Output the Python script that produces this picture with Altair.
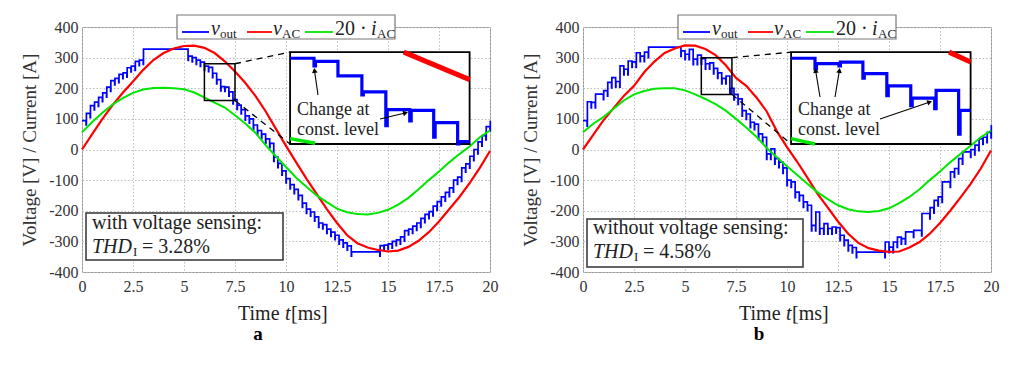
import math
import altair as alt
import pandas as pd

FONT = "'Liberation Serif', 'Times New Roman', 'DejaVu Serif', serif"
BLUE = "#0000ff"
RED = "#ff0000"
GREEN = "#00e600"
TXT = "#222222"

# ---------------- data ----------------
T_BLUE = [0.0, 0.2, 0.4, 0.6, 0.8, 1.0, 1.2, 1.4, 1.6, 1.8, 2.0, 2.2, 2.4, 2.6, 2.8,
          3.0, 3.2, 3.4, 3.6, 3.8, 4.0, 4.2, 4.4, 4.6, 4.8, 5.0, 5.2, 5.4, 5.6, 5.8,
          6.0, 6.2, 6.4, 6.6, 6.8, 7.0, 7.2, 7.4, 7.6, 7.8, 8.0, 8.2, 8.4, 8.6, 8.8,
          9.0, 9.2, 9.4, 9.6, 9.8, 10.0, 10.2, 10.4, 10.6, 10.8, 11.0, 11.2, 11.4, 11.6, 11.8,
          12.0, 12.2, 12.4, 12.6, 12.8, 13.0, 13.2, 13.4, 13.6, 13.8, 14.0, 14.2, 14.4, 14.6, 14.8,
          15.0, 15.2, 15.4, 15.6, 15.8, 16.0, 16.2, 16.4, 16.6, 16.8, 17.0, 17.2, 17.4, 17.6, 17.8,
          18.0, 18.2, 18.4, 18.6, 18.8, 19.0, 19.2, 19.4, 19.6, 19.8, 20.0]

LEFT_VOUT = [94, 118, 143, 155, 170, 185, 204, 225, 232, 245, 250, 267, 272, 288, 292,
             328, 328, 328, 328, 328, 328, 328, 328, 328, 328, 328, 305, 300, 292, 285,
             272, 268, 249, 228, 205, 204, 188, 163, 145, 130, 110, 100, 80, 62, 50,
             35, 20, -25, -45, -70, -95, -115, -130, -150, -175, -195, -204, -220, -240, -245,
             -260, -270, -280, -295, -305, -315, -334, -334, -334, -334, -334, -334, -334, -314, -312,
             -308, -300, -295, -285, -265, -260, -250, -240, -225, -212, -203, -185, -170, -155, -140,
             -125, -100, -90, -60, -47, -22, 0, 25, 45, 75, 94]

RIGHT_VOUT = [94, 156, 154, 181, 181, 192, 219, 235, 222, 273, 262, 289, 286, 316, 305,
              318, 334, 334, 334, 334, 334, 334, 334, 334, 322, 311, 327, 295, 308, 297,
              280, 283, 265, 250, 232, 240, 200, 180, 165, 127, 116, 89, 83, 51, 40,
              -14, 2, -30, -41, -60, -100, -106, -139, -150, -171, -182, -248, -204, -258, -242,
              -258, -253, -255, -280, -296, -313, -320, -335, -335, -335, -335, -335, -335, -335, -302,
              -319, -302, -286, -291, -269, -269, -264, -264, -209, -209, -190, -166, -155, -106, -106,
              -73, -62, -30, -8, -8, 0, 14, 35, 40, 56, 80]

T_SINE = [0.0, 0.5, 1.0, 1.5, 2.0, 2.5, 3.0, 3.5, 4.0, 4.5, 5.0, 5.5, 6.0, 6.5, 7.0, 7.5,
          8.0, 8.5, 9.0, 9.5, 10.0, 10.5, 11.0, 11.5, 12.0, 12.5, 13.0, 13.5, 14.0, 14.5,
          15.0, 15.5, 16.0, 16.5, 17.0, 17.5, 18.0, 18.5, 19.0, 19.5, 20.0]

LEFT_VAC = [0, 50, 100, 145, 185, 222, 260, 292, 315, 330, 338, 339, 332, 315, 288, 255,
            218, 175, 125, 68, 12, -42, -95, -145, -195, -240, -280, -306, -320, -328,
            -333, -330, -318, -298, -270, -235, -195, -155, -110, -60, -5]
LEFT_IAC20 = [56, 90, 120, 147, 168, 185, 196, 201, 202, 200, 197, 186, 170, 153, 137, 112,
              85, 55, 14, -22, -57, -92, -122, -150, -172, -193, -205, -211, -212, -207,
              -197, -180, -158, -130, -100, -72, -42, -15, 10, 40, 62]

RIGHT_VAC = [0, 48, 95, 135, 175, 208, 252, 287, 315, 330, 340, 339, 328, 308, 275, 234,
             208, 170, 125, 60, 8, -40, -92, -145, -190, -235, -275, -305, -322, -330,
             -334, -333, -320, -302, -275, -240, -200, -157, -112, -62, -3]
RIGHT_IAC20 = [56, 84, 106, 133, 160, 180, 191, 198, 200, 200, 193, 180, 165, 148, 127, 100,
               72, 42, 5, -25, -55, -83, -112, -140, -162, -182, -195, -202, -204, -201,
               -192, -175, -155, -130, -100, -72, -42, -15, 12, 40, 62]

X_TICKS = [0, 2.5, 5, 7.5, 10, 12.5, 15, 17.5, 20]
Y_TICKS = [-400, -300, -200, -100, 0, 100, 200, 300, 400]

# zoomed insets (their own units)
LEFT_INSET_T = [6.0, 6.2, 6.4, 6.6, 6.8, 7.0, 7.2, 7.4, 7.5]
LEFT_INSET_VOUT = [272, 268, 249, 228, 205, 204, 188, 163, 163]
LEFT_INSET_SPIKES = [262, 249, 224, 184, 190, 169, 160]
LEFT_INSET_VAC_T = [6.95, 7.5]
LEFT_INSET_VAC = [280, 244]
LEFT_INSET_IAC_T = [6.0, 6.21]
LEFT_INSET_IAC = [167, 161]

RIGHT_INSET_T = [5.8, 6.0, 6.2, 6.4, 6.6, 6.8, 7.0, 7.2, 7.3]
RIGHT_INSET_VOUT = [292, 285, 287, 272, 256, 240, 250, 224, 224]
RIGHT_INSET_SPIKES = [278, 282, 266, 243, 230, 226, 193]
RIGHT_INSET_VAC_T = [7.12, 7.3]
RIGHT_INSET_VAC = [300, 287]
RIGHT_INSET_IAC_T = [5.8, 6.0]
RIGHT_INSET_IAC = [187, 180]

# ---------------- layout constants ----------------
W, H = 408, 245
INSET_BOX = (10.2, 19.0, 18, 318)  # in main axis units
DUMMY = pd.DataFrame({"d": [0]})


def stair_df(ts, levels, spike_depth=None, spike_mins=None, dt=0.015):
    rows = [(ts[0], levels[0])]
    for i in range(1, len(ts)):
        prev, new = levels[i - 1], levels[i]
        t = ts[i]
        if spike_mins is not None and i - 1 < len(spike_mins):
            rows.append((t, spike_mins[i - 1]))
            rows.append((t + dt, new))
        elif spike_depth is not None and new != prev:
            rows.append((t, min(prev, new) - spike_depth))
            rows.append((t + dt, new))
        else:
            rows.append((t, new))
    return pd.DataFrame({"a": [r[0] for r in rows], "b": [r[1] for r in rows],
                         "i": list(range(len(rows)))})


def txt(s, x, y, size=20, italic=False, bold=False, align="left", baseline="alphabetic", color=TXT):
    return alt.Chart(DUMMY).mark_text(
        text=s, font=FONT, fontSize=size, fontStyle="italic" if italic else "normal",
        fontWeight="bold" if bold else "normal", align=align, baseline=baseline, color=color
    ).encode(x=alt.value(x), y=alt.value(y))


def seg(x0, y0, x1, y1, color="black", width=1.2, dash=None):
    kw = dict(color=color, strokeWidth=width)
    if dash:
        kw["strokeDash"] = dash
    return alt.Chart(DUMMY).mark_rule(**kw).encode(
        x=alt.value(x0), x2=alt.value(x1), y=alt.value(y0), y2=alt.value(y1))


def pbox(x0, y0, x1, y1, stroke="#333", width=1.4):
    return alt.Chart(DUMMY).mark_rect(fill="white", stroke=stroke, strokeWidth=width).encode(
        x=alt.value(x0), x2=alt.value(x1), y=alt.value(y0), y2=alt.value(y1))


def arrow(tx, ty, hx, hy):
    dx, dy = hx - tx, hy - ty
    L = math.hypot(dx, dy)
    ux, uy = dx / L, dy / L
    ang = math.degrees(math.atan2(dx, -dy)) % 360
    cx, cy = hx - ux * 3.5, hy - uy * 3.5
    head = alt.Chart(DUMMY).mark_point(shape="triangle-up", filled=True, size=32, angle=ang,
                                       color="black", opacity=1).encode(
        x=alt.value(cx), y=alt.value(cy))
    return [seg(tx, ty, hx - ux * 4, hy - uy * 4, width=1.1), head]


def panel(vout, vac, iac, spike_depth, rect, inset, thd, box, label):
    X = alt.X("t:Q", scale=alt.Scale(domain=[0, 20], nice=False, zero=False),
              axis=alt.Axis(values=X_TICKS, labelExpr="datum.value + ''", title=None))
    Y = alt.Y("v:Q", scale=alt.Scale(domain=[-400, 400], nice=False, zero=False),
              axis=alt.Axis(values=Y_TICKS, labelExpr="datum.value + ''",
                            title="Voltage [V] / Current [A]"))
    layers = []
    bdf = stair_df(T_BLUE, vout, spike_depth=spike_depth).rename(columns={"a": "t", "b": "v"})
    layers.append(alt.Chart(bdf).mark_line(interpolate="step-after", color=BLUE, strokeWidth=1.7)
                  .encode(X, Y, order="i:Q"))
    layers.append(alt.Chart(pd.DataFrame({"t": T_SINE, "v": vac}))
                  .mark_line(color=RED, strokeWidth=2.2).encode(X, Y))
    layers.append(alt.Chart(pd.DataFrame({"t": T_SINE, "v": iac}))
                  .mark_line(color=GREEN, strokeWidth=2.0).encode(X, Y))

    # zoom rectangle and connectors
    rx0, rx1, ry0, ry1 = rect
    layers.append(alt.Chart(pd.DataFrame({"t": [rx0], "t2": [rx1], "v": [ry0], "v2": [ry1]}))
                  .mark_rect(fillOpacity=0, stroke="black", strokeWidth=1.5)
                  .encode(X, alt.X2("t2:Q"), Y, alt.Y2("v2:Q")))
    ix0, ix1, iy0, iy1 = INSET_BOX
    layers.append(alt.Chart(pd.DataFrame({"t": [rx1, rx1], "v": [ry1, ry0],
                                          "t2": [ix0, ix0], "v2": [iy1, iy0]}))
                  .mark_rule(color="black", strokeWidth=1.3, strokeDash=[6, 5])
                  .encode(X, alt.X2("t2:Q"), Y, alt.Y2("v2:Q")))
    # inset frame
    layers.append(alt.Chart(pd.DataFrame({"t": [ix0], "t2": [ix1], "v": [iy0], "v2": [iy1]}))
                  .mark_rect(fill="white", stroke="black", strokeWidth=1.8)
                  .encode(X, alt.X2("t2:Q"), Y, alt.Y2("v2:Q")))

    (it, iv, ispk, vact, vacv, iact, iacv, idom) = inset
    td0, td1, vd0, vd1 = idom
    sx = (ix1 - ix0) / (td1 - td0)
    sy = (iy1 - iy0) / (vd1 - vd0)
    calc = dict(t=f"{ix0} + (datum.a - {td0}) * {sx}", v=f"{iy0} + (datum.b - {vd0}) * {sy}")
    layers.append(alt.Chart(pd.DataFrame({"a": vact, "b": vacv})).transform_calculate(**calc)
                  .mark_line(color=RED, strokeWidth=5).encode(X, Y))
    layers.append(alt.Chart(pd.DataFrame({"a": iact, "b": iacv})).transform_calculate(**calc)
                  .mark_line(color=GREEN, strokeWidth=3.5).encode(X, Y))
    idf = stair_df(it, iv, spike_mins=ispk, dt=0.012)
    layers.append(alt.Chart(idf).transform_calculate(**calc)
                  .mark_line(interpolate="step-after", color=BLUE, strokeWidth=3.2)
                  .encode(X, Y, order="i:Q"))

    # inset annotation
    layers.append(txt("Change at", 215, 88, size=18))
    layers.append(txt("const. level", 215, 108, size=18))
    for a in box["arrows"]:
        layers += arrow(*a)

    # THD box
    bx0, by0, bx1, by1 = box["thd_box"]
    layers.append(pbox(bx0, by0, bx1, by1, stroke="#333", width=1.5))
    l1, l2 = box["thd_base"]
    layers.append(txt(thd[0], 10, l1, size=20))
    layers.append(txt("THD", 10, l2, size=20, italic=True))
    layers.append(txt("I", 51, l2 + 3, size=13))
    layers.append(txt(thd[1], 60, l2, size=20))

    # legend
    layers.append(pbox(95, -12, 313, 12, stroke="#777", width=1.2))
    layers.append(seg(100, 5, 127, 5, color=BLUE, width=1.8))
    layers.append(txt("v", 129, 8, size=20, italic=True))
    layers.append(txt("out", 138, 11, size=13))
    layers.append(seg(165, 5, 190, 5, color=RED, width=1.8))
    layers.append(txt("v", 191, 8, size=20, italic=True))
    layers.append(txt("AC", 200, 11, size=13))
    layers.append(seg(223, 5, 251, 5, color=GREEN, width=1.8))
    layers.append(txt("20 ·", 253, 8, size=20))
    layers.append(txt("i", 289, 8, size=20, italic=True))
    layers.append(txt("AC", 295, 11, size=13))

    # x axis title with italic t
    layers.append(txt("Time", 156, 293, size=20))
    layers.append(txt("t", 203, 293, size=20, italic=True))
    layers.append(txt("[ms]", 209, 293, size=20))

    # sub-figure label
    layers.append(txt(label, 176, 307, size=19, bold=True, align="center", baseline="middle",
                      color="black"))

    return alt.layer(*layers).properties(width=W, height=H)


left = panel(
    LEFT_VOUT, LEFT_VAC, LEFT_IAC20, 14, (6.0, 7.5, 160, 280),
    (LEFT_INSET_T, LEFT_INSET_VOUT, LEFT_INSET_SPIKES, LEFT_INSET_VAC_T, LEFT_INSET_VAC,
     LEFT_INSET_IAC_T, LEFT_INSET_IAC, (6.0, 7.5, 160, 280)),
    ("with voltage sensing:", "= 3.28%"),
    {"thd_box": (4, 186, 201, 233), "thd_base": (202, 226),
     "arrows": [(236, 68, 232, 40), (298, 92, 327, 85)]},
    "a")

right = panel(
    RIGHT_VOUT, RIGHT_VAC, RIGHT_IAC20, 18, (5.8, 7.3, 180, 300),
    (RIGHT_INSET_T, RIGHT_INSET_VOUT, RIGHT_INSET_SPIKES, RIGHT_INSET_VAC_T, RIGHT_INSET_VAC,
     RIGHT_INSET_IAC_T, RIGHT_INSET_IAC, (5.8, 7.3, 180, 300)),
    ("without voltage sensing:", "= 4.58%"),
    {"thd_box": (4, 192, 220, 240), "thd_base": (207, 231),
     "arrows": [(237, 70, 232, 40), (252, 70, 257, 40), (297, 92, 350, 74)]},
    "b")

chart = alt.hconcat(left, right, spacing=22).properties(
    padding={"left": 12, "top": 5, "right": 2, "bottom": 5}
).configure_view(stroke="#999999", strokeWidth=1).configure_axis(
    labelFont=FONT, labelFontSize=16, labelColor="#333333",
    titleFont=FONT, titleFontSize=19, titleColor="#333333", titleFontWeight="normal",
    grid=True, gridColor="#bdbdbd", gridDash=[1.5, 2], gridWidth=1,
    domain=False, ticks=False, labelOverlap=False
).configure_axisX(labelPadding=6, labelFlush=False).configure_axisY(labelPadding=4, titlePadding=9)

chart.save("out.html", embed_options={"renderer": "svg", "actions": False})
